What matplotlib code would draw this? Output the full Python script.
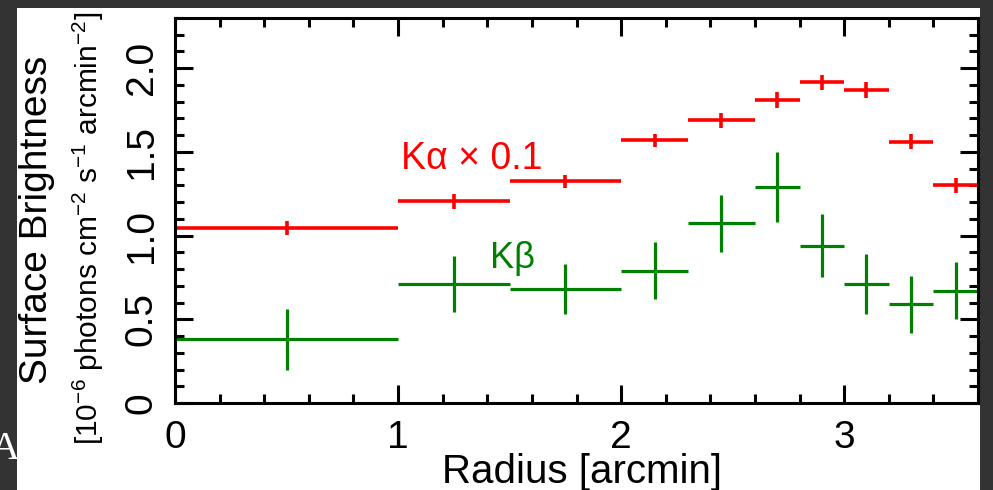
import numpy as np
import matplotlib
matplotlib.use('Agg')
import matplotlib.pyplot as plt
from matplotlib.patches import Rectangle

# Bins in radius (arcmin)
r_lo = [0.0, 1.0, 1.5, 2.0, 2.3, 2.6, 2.8, 3.0, 3.2, 3.4]
r_hi = [1.0, 1.5, 2.0, 2.3, 2.6, 2.8, 3.0, 3.2, 3.4, 3.6]

# K alpha (x 0.1) and K beta surface brightness
ka = [1.045, 1.205, 1.325, 1.57, 1.69, 1.81, 1.915, 1.87, 1.56, 1.30]
ka_err = [0.04, 0.045, 0.04, 0.04, 0.045, 0.05, 0.045, 0.045, 0.045, 0.045]
kb = [0.38, 0.71, 0.68, 0.79, 1.075, 1.29, 0.94, 0.71, 0.59, 0.67]
kb_err = [0.18, 0.167, 0.15, 0.17, 0.17, 0.21, 0.19, 0.18, 0.17, 0.17]

plt.rcParams['font.family'] = ['Liberation Sans', 'DejaVu Sans']
plt.rcParams['mathtext.fontset'] = 'custom'
plt.rcParams['mathtext.rm'] = 'Liberation Sans'
plt.rcParams['mathtext.it'] = 'Liberation Sans:italic'
plt.rcParams['mathtext.default'] = 'regular'

lo = np.array(r_lo)
hi = np.array(r_hi)
rc = (lo + hi) / 2
rw = (hi - lo) / 2

fig = plt.figure(figsize=(9.93, 4.90), dpi=100, facecolor='#333333')
# white panel on the dark frame
fig.patches.append(Rectangle((17 / 993, 0), (980 - 17) / 993, (490 - 8) / 490,
                             transform=fig.transFigure, facecolor='white',
                             edgecolor='none', zorder=-1))

ax = fig.add_axes([175 / 993, 1 - 403 / 490, (978 - 175) / 993, (403 - 18) / 490])
ax.set_zorder(1)
ax.set_facecolor('white')

ax.errorbar(rc, ka, xerr=rw, yerr=ka_err, fmt='none', ecolor='#ff0000',
            elinewidth=2.6, capsize=0)
ax.errorbar(rc, kb, xerr=rw, yerr=kb_err, fmt='none', ecolor='#008000',
            elinewidth=2.3, capsize=0)

ax.text(1.015, 1.40, 'K\u03b1 \u00d7 0.1', color='#ff0000', fontsize=27)
ax.text(1.41, 0.805, 'K\u03b2', color='#008000', fontsize=26)

ax.set_xlim(0, 3.6)
ax.set_ylim(0, 2.3)
ax.set_xticks([0, 1, 2, 3])
ax.set_xticks(np.arange(0, 3.61, 0.2), minor=True)
ax.set_yticks([0, 0.5, 1.0, 1.5, 2.0])
ax.set_yticklabels(['0', '0.5', '1.0', '1.5', '2.0'])
ax.set_yticks(np.arange(0, 2.31, 0.1), minor=True)

for s in ax.spines.values():
    s.set_linewidth(2.2)
ax.tick_params(which='both', direction='in', top=True, right=True, width=2.2,
               labelsize=28)
ax.tick_params(which='major', length=13)
ax.tick_params(which='minor', length=6.5)
ax.tick_params(axis='x', pad=12)
ax.tick_params(axis='y', pad=11, labelrotation=90)
for lab in ax.get_yticklabels():
    lab.set_va('center')

fig.text(37 / 993, 1 - 220 / 490, 'Surface Brightness', rotation=90,
         ha='center', va='center', fontsize=28)
fig.text(88 / 993, 1 - 228 / 490,
         r'[10$^{-6}$ photons cm$^{-2}$ s$^{-1}$ arcmin$^{-2}$]', rotation=90,
         ha='center', va='center', fontsize=21.5)
fig.text(582 / 993, 1 - 453 / 490, 'Radius [arcmin]', ha='center', va='top',
         fontsize=29)
fig.text(20 / 993, 1 - 459 / 490, 'A', ha='right', va='baseline', color='white',
         fontsize=29, family='Liberation Serif')

fig.savefig('out.png', dpi=100, facecolor=fig.get_facecolor())
